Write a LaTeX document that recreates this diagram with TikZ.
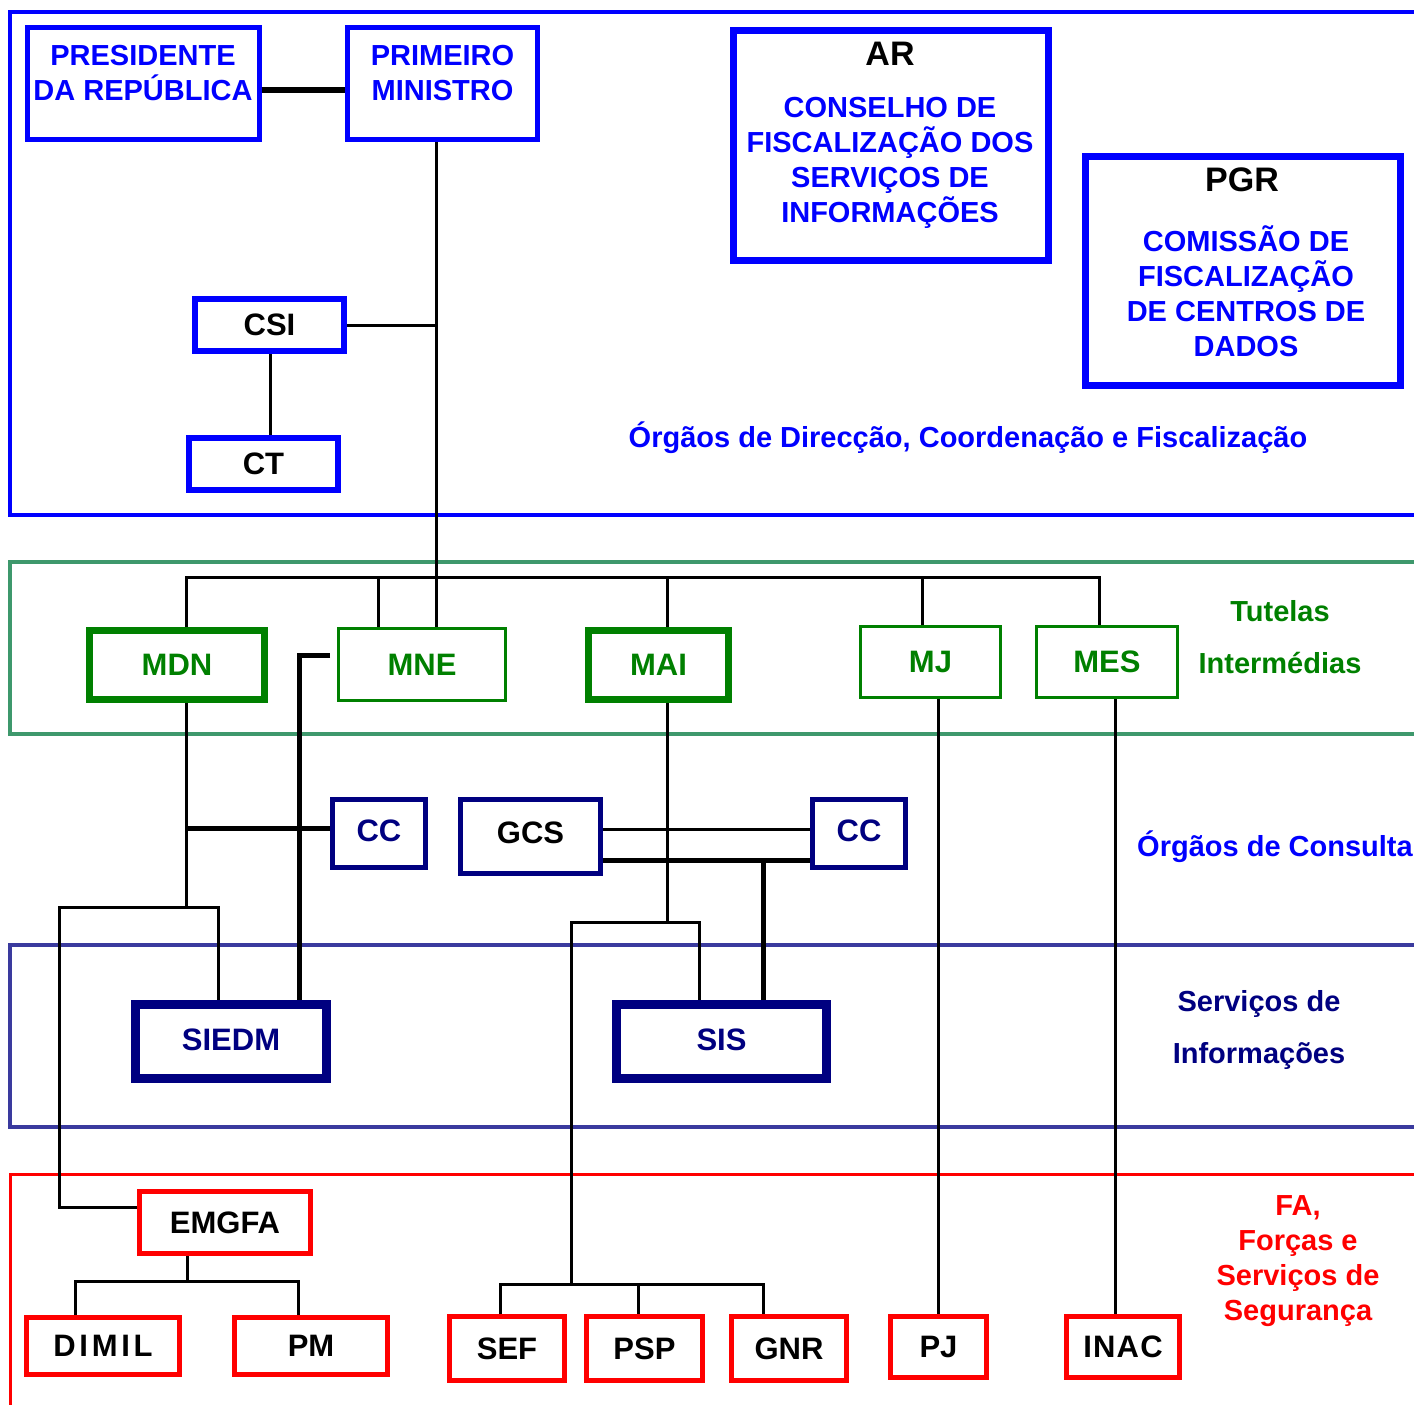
\documentclass[tikz,border=0pt]{standalone}
\usepackage{fontspec}
\setmainfont{Liberation Sans}
\usetikzlibrary{positioning}

\definecolor{orgblue}{RGB}{0,0,255}
\definecolor{bandgreen}{RGB}{62,152,108}
\definecolor{orggreen}{RGB}{0,128,0}
\definecolor{orgnavy}{RGB}{0,0,128}
\definecolor{bandnavy}{RGB}{58,58,158}
\definecolor{orgred}{RGB}{255,0,0}

\newcommand{\boxfont}{\fontsize{31}{36}\selectfont\bfseries}
\newcommand{\bodyfont}{\fontsize{29}{35}\selectfont\bfseries}
\newcommand{\headfont}{\fontsize{34}{40}\selectfont\bfseries}

\begin{document}
\begin{tikzpicture}[x=1pt, y=-1pt]
			\tikzstyle{box} = [draw, fill=white, inner sep=0pt, align=center, font=\boxfont]
			\tikzstyle{topbox} = [box, draw=orgblue, line width=5pt]
			\tikzstyle{tutela} = [box, draw=orggreen, text=orggreen, line width=3pt]
			\tikzstyle{tutelabold} = [tutela, line width=7pt]
			\tikzstyle{consulta} = [box, draw=orgnavy, line width=5pt]
			\tikzstyle{servico} = [box, draw=orgnavy, text=orgnavy, line width=9pt]
			\tikzstyle{forca} = [box, draw=orgred, line width=5pt]
			\tikzstyle{band} = [line width=4pt]
			\tikzstyle{conn} = [line width=3pt]
			\tikzstyle{thickconn} = [line width=5pt]
			\tikzstyle{caption} = [font=\bodyfont, align=center]

			\useasboundingbox (0,0) rectangle (1414,1405);
			\clip (0,0) rectangle (1414,1405);

			% faixas
			\draw[band, orgblue] (10,12) rectangle (1440,515);
			\draw[band, bandgreen] (10,562) rectangle (1440,734);
			\draw[band, bandnavy] (10,945) rectangle (1440,1127);
			\draw[band, orgred, line width=3pt] (10,1174) rectangle (1440,1440);

			% orgaos de direccao
			\node[topbox, minimum width=232pt, minimum height=111pt] (pr) at (143,83.5) {};
			\node[caption, text=orgblue] (prtext) at (143,73.5) {PRESIDENTE\\DA REPÚBLICA};
			\node[topbox, minimum width=190pt, minimum height=111pt] (pm) at (442.5,83.5) {};
			\node[caption, text=orgblue] (pmtext) at (442.5,73.5) {PRIMEIRO\\MINISTRO};
			\node[topbox, line width=6pt, minimum width=149pt, minimum height=52pt] (csi) at (269.5,325) {\raisebox{-3pt}{CSI}};
			\node[topbox, line width=6pt, minimum width=149pt, minimum height=52pt] (ct) at (263.5,464) {\raisebox{-2pt}{CT}};

			\node[topbox, line width=7pt, minimum width=315pt, minimum height=230pt] (ar) at (891,145.5) {};
			\node[font=\headfont] (artitle) at (890,54) {AR};
			\node[caption, text=orgblue] (arbody) at (890,163) {CONSELHO DE\\FISCALIZAÇÃO DOS\\SERVIÇOS DE\\INFORMAÇÕES};
			\node[topbox, line width=7pt, minimum width=315pt, minimum height=229pt] (pgr) at (1243,271) {};
			\node[font=\headfont] (pgrtitle) at (1242,180) {PGR};
			\node[caption, text=orgblue] (pgrbody) at (1246,291) {COMISSÃO DE\\FISCALIZAÇÃO\\DE CENTROS DE\\DADOS};
			\node[caption, text=orgblue] (direccao) at (968,438) {Órgãos de Direcção, Coordenação e Fiscalização};

			% tutelas
			\node[tutelabold, minimum width=175pt, minimum height=69pt] (mdn) at (177,665) {MDN};
			\node[tutela, minimum width=167pt, minimum height=72pt] (mne) at (422,664.5) {MNE};
			\node[tutelabold, minimum width=140pt, minimum height=69pt] (mai) at (658.5,665) {MAI};
			\node[tutela, minimum width=140pt, minimum height=71pt] (mj) at (930.5,662) {MJ};
			\node[tutela, minimum width=141pt, minimum height=71pt] (mes) at (1107,662) {MES};
			\node[caption, text=orggreen] (tutelas) at (1280,637) {Tutelas\\[17pt]Intermédias};

			% consulta
			\node[consulta, text=orgnavy, minimum width=93pt, minimum height=68pt] (cca) at (379,833.5) {\raisebox{6pt}{CC}};
			\node[consulta, minimum width=140pt, minimum height=74pt] (gcs) at (530.5,836.5) {\raisebox{7pt}{GCS}};
			\node[consulta, text=orgnavy, minimum width=93pt, minimum height=68pt] (ccb) at (859,833.5) {\raisebox{6pt}{CC}};
			\node[caption, text=orgblue] (consultalbl) at (1275,847) {Órgãos de Consulta};

			% servicos de informacoes
			\node[servico, minimum width=191pt, minimum height=74pt] (siedm) at (231,1041.5) {\raisebox{4pt}{SIEDM}};
			\node[servico, minimum width=210pt, minimum height=74pt] (sis) at (721.5,1041.5) {\raisebox{3pt}{SIS}};
			\node[caption, text=orgnavy] (servicos) at (1259,1030) {Serviços de\\[17pt]Informações};

			% forcas e servicos de seguranca
			\node[forca, minimum width=171pt, minimum height=62pt] (emgfa) at (225,1222.5) {EMGFA};
			\node[forca, minimum width=153pt, minimum height=57pt, font=\boxfont\addfontfeatures{LetterSpace=12}] (dimil) at (103,1346) {\raisebox{-2pt}{DIMIL}};
			\node[forca, minimum width=153pt, minimum height=57pt] (pmil) at (311,1346) {\raisebox{-2pt}{PM}};
			\node[forca, minimum width=115pt, minimum height=64pt] (sef) at (507,1348.5) {SEF};
			\node[forca, minimum width=116pt, minimum height=64pt] (psp) at (644.5,1348.5) {PSP};
			\node[forca, minimum width=115pt, minimum height=64pt] (gnr) at (789,1348.5) {GNR};
			\node[forca, minimum width=96pt, minimum height=61pt] (pj) at (938.5,1347) {PJ};
			\node[forca, minimum width=113pt, minimum height=61pt, font=\boxfont\addfontfeatures{LetterSpace=4}] (inac) at (1123,1347) {INAC};
			\node[caption, text=orgred] (forcas) at (1298,1261) {FA,\\Forças e\\Serviços de\\Segurança};

			% ligacoes
			\draw[thickconn] ([yshift=-6.5pt]pr.east) -- ([yshift=-6.5pt]pm.west);
			\draw[conn] (pm.south -| 436,0) -- (mne.north -| 436,0);
			\draw[conn] (csi.east) -- (csi.east -| 436,0);
			\draw[conn] (csi.south -| 270,0) -- (ct.north -| 270,0);

			\draw[conn] (mdn.north -| 186,0) -- (186,577) -- (1099,577) -- (mes.north -| 1099,0);
			\draw[conn] (378,577) -- (mne.north -| 378,0);
			\draw[conn] (667,577) -- (mai.north -| 667,0);
			\draw[conn] (922,577) -- (mj.north -| 922,0);

			\draw[conn] (mdn.south -| 186,0) -- (186,907);
			\draw[conn] (emgfa.west |- 0,1207) -| (59,907) -| (siedm.north -| 218,0);
			\draw[thickconn] (186,828) -- (cca.west |- 0,828);
			\draw[thickconn] ([xshift=-7pt]mne.west |- 0,655) -| (siedm.north -| 299,0);

			\draw[conn] (gcs.east |- 0,829) -- (ccb.west |- 0,829);
			\draw[thickconn] (gcs.east |- 0,860) -- (ccb.west |- 0,860);
			\draw[thickconn] (763,860) -- (sis.north -| 763,0);

			\draw[conn] (mai.south -| 667,0) -- (667,922);
			\draw[conn] (571,1284) |- (699,922) -- (sis.north -| 699,0);
			\draw[conn] (sef.north -| 500,0) -- (500,1284) -- (763,1284) -- (gnr.north -| 763,0);
			\draw[conn] (638,1284) -- (psp.north -| 638,0);

			\draw[conn] (emgfa.south -| 187,0) -- (187,1281);
			\draw[conn] (dimil.north -| 75,0) -- (75,1281) -- (298,1281) -- (pmil.north -| 298,0);

			\draw[conn] (mj.south -| 938,0) -- (pj.north -| 938,0);
			\draw[conn] (mes.south -| 1115,0) -- (inac.north -| 1115,0);
\end{tikzpicture}
\end{document}
